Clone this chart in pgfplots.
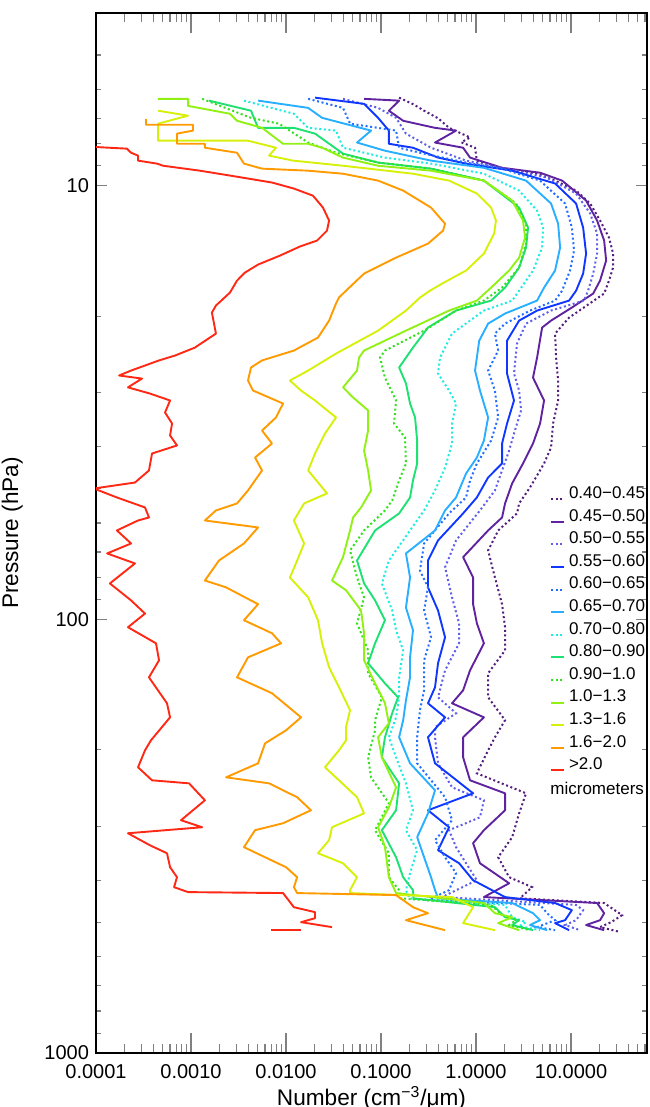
\documentclass[border=0pt]{standalone}
\usepackage{fontspec}
\setmainfont{Liberation Sans}
\usepackage{pgfplots}
\pgfplotsset{compat=1.18}

\definecolor{cA}{RGB}{85,30,125}
\definecolor{cB}{RGB}{95,35,160}
\definecolor{cC}{RGB}{95,95,235}
\definecolor{cD}{RGB}{15,55,255}
\definecolor{cE}{RGB}{35,110,255}
\definecolor{cF}{RGB}{40,175,255}
\definecolor{cG}{RGB}{30,235,225}
\definecolor{cH}{RGB}{30,225,115}
\definecolor{cI}{RGB}{50,225,30}
\definecolor{cJ}{RGB}{145,240,20}
\definecolor{cK}{RGB}{215,240,10}
\definecolor{cL}{RGB}{255,155,0}
\definecolor{cM}{RGB}{255,40,20}

\pgfplotsset{
  dots/.style={line width=1pt, dash pattern=on 1pt off 1.3pt},
  sol/.style={line width=0.95pt, line join=round},
}

\begin{document}
\begin{tikzpicture}
\path[use as bounding box] (-48pt,-27pt) rectangle (276.5pt,526.5pt);
\begin{axis}[
  at={(0pt,0pt)}, anchor=south west,
  width=275.5pt, height=520pt, scale only axis,
  xmode=log, ymode=log, y dir=reverse,
  xmin=1e-4, xmax=63, ymin=4, ymax=1000,
  xtick={1e-4,1e-3,1e-2,1e-1,1,10},
  xticklabels={0.0001,0.0010,0.0100,0.1000,1.0000,10.0000},
  minor xtick={2e-4,3e-4,4e-4,5e-4,6e-4,7e-4,8e-4,9e-4,
    2e-3,3e-3,4e-3,5e-3,6e-3,7e-3,8e-3,9e-3,
    0.02,0.03,0.04,0.05,0.06,0.07,0.08,0.09,
    0.2,0.3,0.4,0.5,0.6,0.7,0.8,0.9,
    2,3,4,5,6,7,8,9,20,30,40,50,60},
  ytick={10,100,1000}, yticklabels={10,100,1000},
  minor ytick={4,5,6,7,8,9,20,30,40,50,60,70,80,90,200,300,400,500,600,700,800,900},
  tick align=inside,
  axis line style={line width=0.8pt},
  xtick style={line width=0.6pt, /pgfplots/major tick length=10pt, /pgfplots/minor tick length=4.5pt},
  ytick style={line width=0.6pt, /pgfplots/major tick length=5.5pt, /pgfplots/minor tick length=2.75pt},
  tick label style={font=\fontsize{10}{12}\selectfont},
  xticklabel style={yshift=-2.2pt},
  every axis x label/.style={at={(axis description cs:0.5,-0.0433)},anchor=center},
  every axis y label/.style={at={(axis description cs:-0.152,0.5)},rotate=90,anchor=center},
  label style={font=\fontsize{11.3}{13}\selectfont},
  xlabel={Number (cm\textsuperscript{−3}/μm)},
  ylabel={Pressure (hPa)},
  legend style={at={(axis description cs:0.824,0.5447)}, anchor=north west,
    draw=none, fill=none, inner sep=0pt, outer sep=0pt,
    font=\fontsize{8.5}{10}\selectfont, row sep=3.8pt, column sep=2pt,
    nodes={inner sep=0pt, text height=6pt, text depth=1.5pt}},
  legend cell align=left,
  legend image code/.code={\draw[#1] (0pt,-2.6pt) -- (6.5pt,-2.6pt);},
]

% 0.40-0.45
\addplot[cA, dots] coordinates {
(0.155,6.27) (0.22,6.5) (0.284,6.72) (0.40,7.0) (0.520,7.36) (0.865,7.75) (0.70,7.95) (0.976,8.18) (1.02,8.76)
(1.88,9.10) (4.39,9.39) (6.79,9.74) (11.3,10.27) (15.9,11.00) (20.2,12.04) (25.1,13.18)
(27.7,14.35) (27.7,15.45) (25.1,16.56) (22.3,17.74) (9.53,20.16) (6.79,21.94) (6.96,24.92)
(7.31,28.15) (7.31,31.30) (6.47,35.37) (6.16,40.17) (5.20,43.73) (3.70,49.66) (2.84,54.06)
(2.70,57.0) (1.71,62.4) (1.34,69.4) (1.58,80.1) (1.88,92.3) (2.02,104.3) (2.02,117.9)
(1.34,133.2) (1.34,151.3) (2.02,170.9) (1.58,187.1) (1.34,200.5) (1.02,226.5) (3.36,251.9)
(2.84,280.2) (2.40,318.0) (1.71,353.7) (2.23,393.3) (3.89,414.6) (2.9,440.0) (22.3,451.0)
(34.4,481.0) (26.4,499.3) (20.2,512.6) (32.8,526.0)
};
\addlegendentry{0.40−0.45}

% 0.45-0.50
\addplot[cB, sol] coordinates {
(0.0663,6.31) (0.155,6.37) (0.121,6.72) (0.171,7.09) (0.370,7.36) (0.616,7.47) (0.370,7.96)
(0.731,8.18) (0.865,8.62) (1.88,9.10) (4.72,9.34) (8.05,9.74) (14.4,10.83) (18.8,12.04)
(22.3,13.39) (23.4,14.89) (20.2,16.56) (17.1,17.74) (10.2,19.11) (6.16,20.48) (4.96,21.25)
(4.39,24.92) (3.98,27.72) (5.20,31.30) (4.72,35.37) (3.98,39.33) (3.12,43.73) (2.40,48.60)
(2.02,54.06) (1.88,58.24) (1.34,62.4) (0.731,71.9) (0.931,80.1) (0.931,92.3) (1.02,102.1)
(1.21,113.6) (0.865,131.1) (0.731,145.8) (0.559,156.2) (1.21,168.3) (0.731,187.1)
(0.731,208.1) (0.865,235.1) (2.02,251.9) (2.02,275.6) (1.21,306.4) (0.931,328.2)
(1.10,365.2) (2.23,406.1) (1.21,437.0) (18.8,451.0) (22.3,476.0) (20.2,494.0) (14.4,507.0)
(22.3,520.9)
};
\addlegendentry{0.45−0.50}

% 0.50-0.55
\addplot[cC, dots] coordinates {
(0.0398,6.31) (0.0931,6.62) (0.144,6.98) (0.183,7.59) (0.336,8.18) (0.785,8.76) (1.88,9.10)
(5.59,9.59) (11.3,10.43) (15.9,11.60) (18.8,12.90) (18.8,14.35) (17.1,15.96) (15.1,17.47)
(13.7,18.42) (6.16,19.42) (3.36,20.81) (2.70,23.13) (2.51,27.13) (2.84,29.69) (2.98,32.99)
(2.51,37.30) (2.23,40.82) (1.88,45.38) (1.58,50.46) (1.10,56.11) (0.616,65.8) (0.472,75.9)
(0.559,89.0) (0.663,102.1) (0.663,113.6) (0.472,131.1) (0.398,151.3) (0.616,164.7)
(0.370,177.4) (0.370,187.1) (0.398,214.8) (0.559,244.0) (1.21,261.4) (1.10,286.1)
(0.520,306.4) (0.616,335.3) (0.785,365.2) (1.02,399.6) (0.439,437.0) (11.3,455.6)
(13.4,468.4) (11.3,494.0) (8.65,507.0) (12.4,520.9)
};
\addlegendentry{0.50−0.55}

% 0.55-0.60
\addplot[cD, sol] coordinates {
(0.0202,6.27) (0.0663,6.48) (0.0931,6.98) (0.121,7.47) (0.121,8.01) (0.217,8.18) (0.398,8.62)
(0.785,8.90) (2.40,9.24) (6.79,9.89) (11.3,11.00) (13.4,12.50) (14.4,14.35) (13.4,15.96)
(11.3,17.47) (9.53,18.42) (4.39,19.42) (2.84,20.48) (2.12,22.78) (2.12,27.13) (2.51,31.30)
(2.12,35.37) (1.88,39.33) (1.88,43.73) (1.34,47.10) (1.02,52.37) (0.731,57.0) (0.398,65.8)
(0.312,73.2) (0.312,84.4) (0.398,95.4) (0.472,110.0) (0.398,126.3) (0.370,143.5)
(0.312,156.2) (0.472,168.3) (0.312,187.1) (0.370,214.8) (0.931,251.9) (0.312,275.6)
(0.520,301.6) (0.398,340.7) (0.663,365.2) (0.931,399.6) (2.02,437.0) (6.79,451.0)
(10.2,468.4) (8.65,494.0) (6.79,501.8) (9.53,520.9)
};
\addlegendentry{0.55−0.60}

% 0.60-0.65
\addplot[cE, dots] coordinates {
(0.0171,6.31) (0.0398,6.62) (0.0472,7.20) (0.144,7.47) (0.155,8.18) (0.257,8.40) (0.785,8.85)
(1.88,9.14) (4.72,9.74) (8.65,11.00) (10.2,12.50) (10.75,14.12) (9.76,15.70) (8.05,17.47)
(6.79,18.42) (3.70,19.42) (2.02,20.81) (1.58,21.94) (1.71,24.01) (1.34,26.70) (1.58,29.69)
(1.71,34.25) (1.44,38.72) (1.02,43.73) (0.865,47.84) (0.785,52.37) (0.520,57.0) (0.284,66.86)
(0.257,77.2) (0.312,84.4) (0.284,95.4) (0.336,110.0) (0.284,124.3) (0.284,145.8)
(0.257,162.0) (0.240,187.1) (0.240,214.8) (0.472,257.2) (0.559,290.6) (0.370,323.1)
(0.472,353.7) (0.616,384.8) (0.520,421.2) (0.312,443.9) (4.72,455.6) (5.59,476.0)
(6.79,494.0) (4.39,512.6) (6.79,520.9)
};
\addlegendentry{0.60−0.65}

% 0.65-0.70
\addplot[cF, sol] coordinates {
(0.00508,6.37) (0.0171,6.62) (0.0240,6.98) (0.0785,7.47) (0.0559,7.96) (0.110,8.31)
(0.336,8.76) (1.21,9.10) (3.36,9.74) (6.16,11.00) (7.31,12.24) (7.67,13.90) (6.79,15.70)
(5.20,17.19) (4.39,18.42) (2.02,19.73) (1.34,20.81) (1.08,22.78) (0.976,26.70) (1.10,29.69)
(1.34,34.25) (1.21,38.72) (1.02,42.37) (0.785,46.12) (0.616,52.37) (0.472,56.11) (0.370,62.4)
(0.183,70.5) (0.202,80.1) (0.183,94.0) (0.217,106.0) (0.202,122.4) (0.202,136.1)
(0.183,153.7) (0.171,170.9) (0.155,187.1) (0.202,214.8) (0.370,247.9) (0.312,280.2)
(0.240,318.0) (0.284,353.7) (0.336,393.3) (0.370,421.2) (0.40,440.0) (2.40,451.0) (3.98,476.0)
(4.72,494.0) (3.70,507.0) (5.59,520.9)
};
\addlegendentry{0.65−0.70}

% 0.70-0.80
\addplot[cG, dots] coordinates {
(0.00361,6.37) (0.0121,6.83) (0.0171,7.36) (0.0336,7.47) (0.0398,8.18) (0.110,8.62)
(0.336,8.90) (1.21,9.39) (2.84,10.27) (4.39,11.42) (5.08,12.50) (4.96,13.90) (3.98,15.70)
(2.84,17.47) (2.40,18.42) (1.21,19.42) (0.559,21.94) (0.418,24.92) (0.398,27.13) (0.520,29.69)
(0.616,31.81) (0.559,35.37) (0.559,39.33) (0.472,44.67) (0.370,50.46) (0.284,56.11)
(0.202,62.4) (0.121,73.2) (0.102,82.66) (0.131,95.4) (0.144,106.0) (0.171,117.9)
(0.155,136.1) (0.155,151.3) (0.144,168.3) (0.121,187.1) (0.144,208.1) (0.183,238.9)
(0.217,275.6) (0.183,306.4) (0.240,340.7) (0.202,384.8) (0.183,421.2) (0.20,440.0) (2.02,455.6)
(2.40,486.3) (3.36,499.3) (2.84,510.0) (4.72,520.9)
};
\addlegendentry{0.70−0.80}

% 0.80-0.90
\addplot[cH, sol] coordinates {
(0.00155,6.37) (0.00428,6.72) (0.00508,7.36) (0.0121,7.36) (0.0202,7.59) (0.0398,8.44)
(0.0931,8.85) (0.336,9.14) (1.21,9.74) (2.84,11.24) (3.53,12.50) (3.36,13.90) (2.84,15.45)
(2.02,17.19) (1.44,18.42) (0.616,19.42) (0.312,21.25) (0.217,23.63) (0.155,26.27)
(0.183,28.59) (0.202,31.81) (0.228,34.25) (0.240,38.72) (0.240,43.73) (0.217,47.84)
(0.202,52.37) (0.155,57.00) (0.0865,62.4) (0.0559,73.2) (0.0663,82.66) (0.0865,90.45)
(0.110,100.5) (0.0865,113.6) (0.0731,126.3) (0.110,140.5) (0.151,151.3) (0.131,164.7)
(0.110,187.1) (0.102,208.1) (0.155,238.9) (0.144,275.6) (0.102,306.4) (0.144,353.7)
(0.171,393.3) (0.217,421.2) (0.22,440.0) (1.58,461.1) (2.02,486.3) (2.84,494.0) (2.40,507.0)
(3.98,520.9)
};
\addlegendentry{0.80−0.90}

% 0.90-1.0
\addplot[cI, dots] coordinates {
(0.00131,6.31) (0.00428,6.98) (0.00845,7.20) (0.0171,7.96) (0.0336,8.40) (0.0931,8.85)
(0.336,9.14) (1.21,9.74) (2.64,11.00) (3.36,12.24) (3.36,13.61) (2.84,15.45) (1.88,17.19)
(1.21,18.42) (0.616,19.42) (0.284,21.60) (0.110,24.01) (0.0976,24.92) (0.110,27.72)
(0.144,31.30) (0.137,35.37) (0.179,38.09) (0.183,43.73) (0.155,47.84) (0.131,53.21)
(0.110,56.11) (0.0663,62.4) (0.0472,69.4) (0.0559,80.1) (0.0663,89.0) (0.0559,102.1)
(0.0731,117.9) (0.0731,133.2) (0.102,151.3) (0.0865,170.9) (0.0865,180.3) (0.0731,208.1)
(0.0785,231.4) (0.121,265.6) (0.0865,306.4) (0.121,346.3) (0.121,393.3) (0.155,421.2)
(0.16,440.0) (1.44,455.6) (1.88,480.0) (2.64,494.0) (2.23,507.0) (3.70,520.9)
};
\addlegendentry{0.90−1.0}

% 1.0-1.3
\addplot[cJ, sol] coordinates {
(0.000450,6.31) (0.000931,6.31) (0.000931,6.55) (0.00257,6.83) (0.00305,7.09) (0.00559,7.36)
(0.00931,8.01) (0.0171,8.01) (0.0240,8.18) (0.0398,8.62) (0.0931,9.00) (0.336,9.24)
(1.21,9.74) (2.40,10.83) (3.12,12.04) (3.28,13.18) (2.84,14.66) (2.23,15.70) (1.44,17.19)
(1.02,18.42) (0.520,19.42) (0.183,21.60) (0.0663,24.01) (0.0587,24.92) (0.0559,26.70)
(0.0398,29.19) (0.0508,30.81) (0.0731,32.99) (0.0731,36.72) (0.0663,40.82) (0.0731,45.38)
(0.0785,50.46) (0.0616,55.23) (0.0508,58.24) (0.0472,62.4) (0.0398,71.9) (0.0305,81.4)
(0.0428,85.7) (0.0616,95.4) (0.0663,107.7) (0.0663,124.3) (0.0865,140.5) (0.110,156.2)
(0.121,173.7) (0.0931,187.1) (0.102,208.1) (0.144,244.0) (0.121,271.3) (0.0931,301.6)
(0.110,335.3) (0.121,393.3) (0.144,427.8) (1.21,451.0) (1.58,476.0) (2.40,486.3)
(1.71,501.8) (2.84,520.9)
};
\addlegendentry{1.0−1.3}

% 1.3-1.6
\addplot[cK, sol] coordinates {
(0.000450,6.72) (0.000931,6.90) (0.000450,7.20) (0.000450,7.88) (0.00110,7.88) (0.00398,7.88)
(0.00785,8.18) (0.00663,8.53) (0.0119,8.76) (0.0398,9.00) (0.217,9.39) (0.520,9.74)
(1.02,10.43) (1.44,11.24) (1.62,12.04) (1.55,12.90) (1.21,14.35) (0.785,15.70) (0.439,16.83)
(0.328,17.47) (0.257,18.12) (0.183,19.42) (0.0931,21.60) (0.0336,24.40) (0.0171,26.70)
(0.0110,28.15) (0.0144,29.69) (0.0202,31.30) (0.0336,34.25) (0.0257,37.30) (0.0202,41.47)
(0.0171,45.38) (0.0240,49.66) (0.0270,51.26) (0.0155,54.06) (0.0121,59.18) (0.0155,66.86)
(0.0131,73.2) (0.0110,80.1) (0.0171,89.0) (0.0217,100.5) (0.0240,113.6) (0.0284,129.0)
(0.0361,143.5) (0.0472,162.0) (0.0428,177.4) (0.0428,190.1) (0.0361,200.5) (0.0257,219.4)
(0.0361,235.1) (0.0559,257.2) (0.0663,280.2) (0.0305,301.6) (0.0284,323.1) (0.0217,346.3)
(0.0398,365.2) (0.0559,393.3) (0.0472,421.2) (0.0472,427.8) (0.559,437.0) (0.931,461.1)
(0.731,501.8) (1.58,520.9)
};
\addlegendentry{1.3−1.6}

% 1.6-2.0
\addplot[cL, sol] coordinates {
(0.000336,7.02) (0.000336,7.24) (0.00105,7.24) (0.00105,7.47) (0.000712,7.59) (0.000712,8.01)
(0.00140,8.01) (0.00140,8.18) (0.00305,8.40) (0.00361,8.90) (0.00559,9.14) (0.0171,9.24)
(0.0398,9.39) (0.0931,9.74) (0.171,10.27) (0.336,11.24) (0.472,12.24) (0.450,12.70)
(0.312,13.61) (0.144,14.66) (0.0663,15.96) (0.0428,17.47) (0.0361,18.12) (0.0336,18.70)
(0.0284,20.48) (0.0217,22.41) (0.0121,24.01) (0.00559,25.30) (0.00428,26.27) (0.00398,28.15)
(0.00450,29.69) (0.00931,31.81) (0.00785,34.25) (0.00559,36.72) (0.00712,39.33)
(0.00472,42.37) (0.00559,45.38) (0.00398,50.46) (0.00305,54.06) (0.00183,56.11)
(0.00140,59.18) (0.00508,61.41) (0.00361,66.86) (0.00197,73.2) (0.00140,81.4) (0.00234,84.4)
(0.00508,92.3) (0.00361,100.5) (0.00712,107.7) (0.00887,113.6) (0.00398,122.4) (0.00305,136.1)
(0.00712,148.1) (0.0144,168.3) (0.0100,180.3) (0.00602,193.2) (0.00508,214.8) (0.00234,231.4)
(0.00663,238.9) (0.0131,257.2) (0.0183,275.6) (0.00931,295.3) (0.00472,306.4) (0.00361,335.3)
(0.00602,353.7) (0.0100,372.9) (0.0131,393.3) (0.0121,414.6) (0.0131,427.8) (0.144,432.4)
(0.217,461.1) (0.312,476.0) (0.183,494.0) (0.472,520.9)
};
\addlegendentry{1.6−2.0}

% >2.0
\addplot[cM, sol] coordinates {
(0.00009,8.14) (0.000212,8.22) (0.000234,8.40) (0.000277,8.53) (0.000277,8.76) (0.000439,8.90)
(0.000508,9.00) (0.00124,9.24) (0.00305,9.54) (0.00712,9.84) (0.0121,10.16) (0.0192,10.55)
(0.0245,11.24) (0.0284,12.04) (0.0270,12.70) (0.0212,13.39) (0.0140,13.82) (0.00865,14.50)
(0.00508,15.21) (0.00370,15.87) (0.00305,16.56) (0.00257,17.65) (0.00183,18.91) (0.00166,19.63)
(0.00183,21.94) (0.00110,23.63) (0.000679,24.65) (0.000461,25.30) (0.000234,26.70)
(0.000175,27.41) (0.000305,27.86) (0.000217,29.19) (0.000370,30.17) (0.000602,31.30)
(0.000533,33.36) (0.000632,35.37) (0.000602,37.69) (0.000712,39.74) (0.000389,41.47)
(0.000361,45.38) (0.000257,48.38) (0.000095,49.94) (0.000166,52.37) (0.000328,55.23)
(0.000361,58.24) (0.000277,59.18) (0.000166,62.4) (0.000234,66.86) (0.000131,70.5)
(0.000257,74.35) (0.000140,82.66) (0.000234,90.45) (0.000328,97.0) (0.000217,104.3)
(0.000428,113.6) (0.000461,124.3) (0.000361,136.1) (0.000559,156.2) (0.000602,168.3)
(0.000379,190.1) (0.000328,200.5) (0.000277,219.4) (0.000389,235.1) (0.000953,238.9)
(0.00140,261.4) (0.000785,290.6) (0.00131,301.6) (0.000217,311.4) (0.000370,332.0)
(0.000559,346.3) (0.000602,372.9) (0.000712,393.3) (0.000663,414.6) (0.000931,425.6)
(0.00931,427.8) (0.0121,461.1) (0.0202,473.4) (0.0202,488.8) (0.0144,499.3) (0.0305,512.6)
};
\addlegendentry{>2.0}
\addplot[cM, line width=1.3pt, forget plot] coordinates {(0.00696,520.9) (0.0144,520.9)};

\node[anchor=west, font=\fontsize{8.5}{10}\selectfont, inner sep=0pt]
  at (axis description cs:0.824,0.2548) {micrometers};
\end{axis}
\end{tikzpicture}
\end{document}
